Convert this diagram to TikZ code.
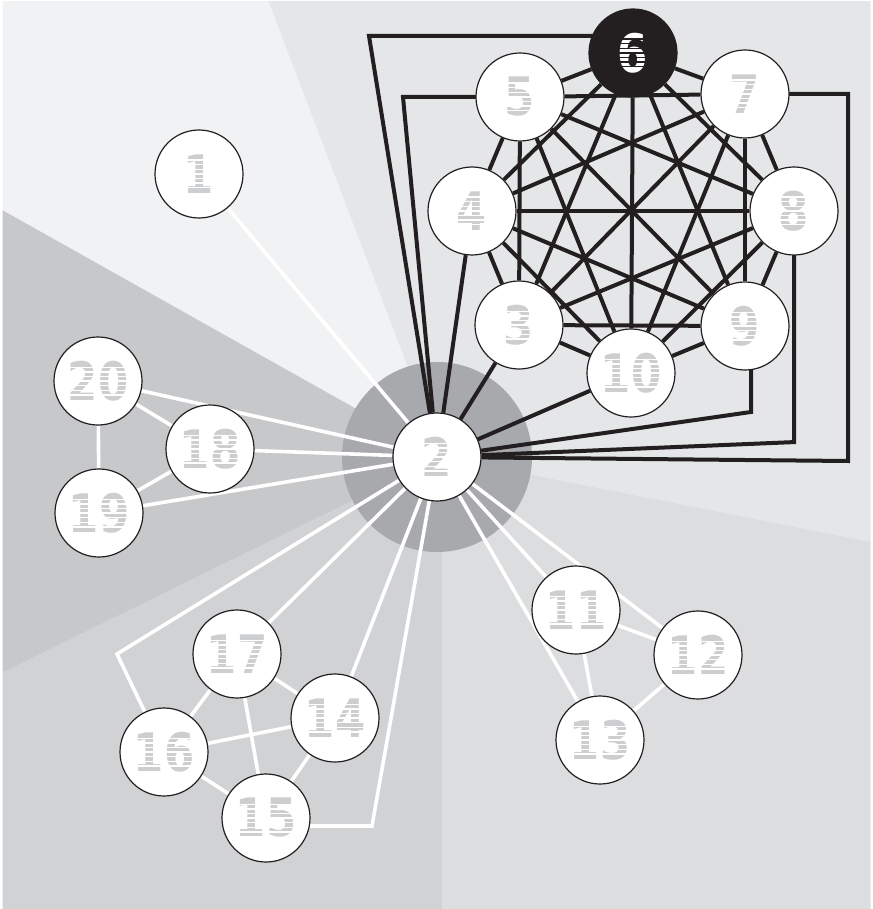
\documentclass[tikz,border=0pt]{standalone}
\usepackage{fontspec}
\newfontfamily\digitfont{DejaVu Sans}[FakeStretch=0.82]
\definecolor{inkblack}{HTML}{231F20}
\definecolor{labelgray}{HTML}{CDCED0}
\definecolor{hubdisc}{HTML}{A8A9AD}
\definecolor{wedgeNW}{HTML}{F1F2F3}
\definecolor{wedgeNE}{HTML}{E5E6E8}
\definecolor{wedgeW}{HTML}{C7C8CA}
\definecolor{wedgeSW}{HTML}{D1D2D4}
\definecolor{wedgeSE}{HTML}{DCDDDF}
\pgfdeclarelayer{bg}
\pgfdeclarelayer{links}
\pgfsetlayers{bg,links,main}
\begin{document}
\begin{tikzpicture}[x=1pt,y=-1pt,
  vertex/.style={circle, draw=inkblack, line width=1.2pt, fill=white,
    minimum size=88pt, inner sep=0pt, text=labelgray,
    font=\digitfont\bfseries\fontsize{53}{53}\selectfont},
  hub/.style={vertex, fill=inkblack, text=white},
  darklink/.style={draw=inkblack, line width=4pt, line join=miter},
  lightlink/.style={draw=white, line width=3.6pt, line join=miter},
  stripe/.style={line width=1.4pt}]
\useasboundingbox (0,0) rectangle (872,909);

% ---- nodes ----
\node[vertex] (n1)  at (199,174) {1};
\node[vertex] (n2)  at (437,457) {2};
\node[vertex] (n3)  at (519,325) {3};
\node[vertex] (n4)  at (472,211) {4};
\node[vertex] (n5)  at (520,97)  {5};
\node[hub]    (n6)  at (633,53)  {6};
\node[vertex] (n7)  at (745,94)  {7};
\node[vertex] (n8)  at (794,211) {8};
\node[vertex] (n9)  at (745,326) {9};
\node[vertex] (n10) at (631,373) {10};
\node[vertex] (n11) at (576,610) {11};
\node[vertex] (n12) at (698,655) {12};
\node[vertex] (n13) at (600,740) {13};
\node[vertex] (n14) at (335,718) {14};
\node[vertex] (n15) at (266,818) {15};
\node[vertex] (n16) at (164,752) {16};
\node[vertex] (n17) at (237,654) {17};
\node[vertex] (n18) at (210,449) {18};
\node[vertex] (n19) at (99,513)  {19};
\node[vertex] (n20) at (98,381)  {20};

% bend points of the routed links
\coordinate (c5)  at (403,97);
\coordinate (c6)  at (369,36);
\coordinate (c7)  at (848,461);
\coordinate (c8)  at (796,442);
\coordinate (c9)  at (751,412);
\coordinate (c15) at (372,826);
\coordinate (c16) at (117,654);

% striped digits
\foreach \n in {1,2,3,4,5,7,8,9,10,11,12,13,14,15,16,17,18,19,20}
  \foreach \k in {-3,...,3}
    \draw[stripe, white] ([shift={(-38,\k*4.6)}]n\n.center) -- ([shift={(38,\k*4.6)}]n\n.center);
\foreach \k in {-3,...,3}
  \draw[stripe, inkblack] ([shift={(-30,\k*4.6)}]n6.center) -- ([shift={(30,\k*4.6)}]n6.center);

% ---- background wedges ----
\begin{pgfonlayer}{bg}
  \fill[white] (0,0) rectangle (872,909);
  \begin{scope}
    \clip (2.7,1.7) rectangle (870.5,909);
    \coordinate (apex) at (442,457);
    \fill[wedgeNW] (apex) -- (268,0) -- (0,0) -- (0,208.8) -- cycle;
    \fill[wedgeNE] (apex) -- (268,0) -- (872,0) -- (872,542) -- cycle;
    \fill[wedgeW]  (apex) -- (0,208.8) -- (0,674) -- cycle;
    \fill[wedgeSW] (apex) -- (0,674) -- (0,909) -- (442,909) -- cycle;
    \fill[wedgeSE] (apex) -- (442,909) -- (872,909) -- (872,542) -- cycle;
  \end{scope}
  \fill[hubdisc] (n2.center) circle[radius=95];
\end{pgfonlayer}

% ---- links ----
\begin{pgfonlayer}{links}
  % complete graph on the octagon
  \foreach \a in {3,...,10}
    \foreach \b in {3,...,10}
      {\ifnum\a<\b \draw[darklink] (n\a) -- (n\b);\fi}
  % hub to the octagon
  \draw[darklink] (n2) -- (n3);
  \draw[darklink] (n2) -- (n4);
  \draw[darklink] (n2) -- (n10);
  \draw[darklink] (n2) -- (c5) -- (c5 -| n5.center);
  \draw[darklink] (n2) -- (c6) -- (c6 -| n6.center);
  \draw[darklink] (n7.center) -- (n7.center -| c7) -- (c7) -- (n2);
  \draw[darklink] (n8.center) -- (n8.center |- c8) -- (c8) -- (n2);
  \draw[darklink] (c9 |- n9.center) -- (c9) -- (n2);

  % hub to the light clusters
  \foreach \t in {1,11,12,13,14,17,18,19,20}
    \draw[lightlink] (n2) -- (n\t);
  \draw[lightlink] (n2) -- (c16) -- (n16);
  \draw[lightlink] (n2) -- (c15) -- (c15 -| n15.center);

  % clusters
  \draw[lightlink] (n20) -- (n18);
  \draw[lightlink] (n20) -- (n19);
  \draw[lightlink] (n18) -- (n19);
  \draw[lightlink] (n11) -- (n12);
  \draw[lightlink] (n11) -- (n13);
  \draw[lightlink] (n12) -- (n13);
  \draw[lightlink] (n14) -- (n15);
  \draw[lightlink] (n14) -- (n16);
  \draw[lightlink] (n14) -- (n17);
  \draw[lightlink] (n15) -- (n16);
  \draw[lightlink] (n15) -- (n17);
  \draw[lightlink] (n16) -- (n17);
\end{pgfonlayer}
\end{tikzpicture}
\end{document}
